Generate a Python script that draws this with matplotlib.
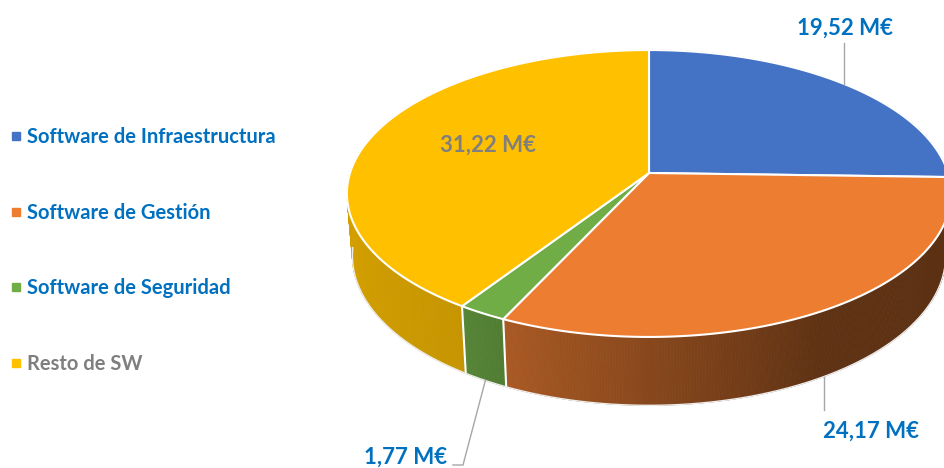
import numpy as np
import matplotlib
matplotlib.use("Agg")
import matplotlib.pyplot as plt
from matplotlib.lines import Line2D
from matplotlib.patches import Polygon
from matplotlib.collections import PolyCollection

# data
categories = ["Software de Infraestructura", "Software de Gestión",
              "Software de Seguridad", "Resto de SW"]
values = [19.52, 24.17, 1.77, 31.22]
value_labels = ["19,52 M€", "24,17 M€", "1,77 M€", "31,22 M€"]

colors = ["#4472C4", "#ED7D31", "#70AD47", "#FFC000"]
text_colors = ["#0070C0", "#0070C0", "#0070C0", "#7F7F7F"]
FONT = ["Lato", "DejaVu Sans"]

# 3d view (pixel space of the figure)
CX, CY = 649, 173
S = 299
TILT = np.arcsin(0.47)
DIST = 6.18
DEPTH = 0.238


def project(phi, y=0.0):
    X = np.cos(phi)
    Z = np.sin(phi)
    ca, sa = np.cos(TILT), np.sin(TILT)
    yc = y * ca + Z * sa
    w = 1 + (-y * sa + Z * ca) / DIST
    return CX + S * X / w, CY - S * yc / w


def shade(phi_deg):
    # side walls: lighter on the left, dark on the right
    p = (phi_deg + 270) % 360 - 270
    return np.interp(p, [-180, -125, -112, -60, 0], [0.85, 0.78, 0.70, 0.40, 0.38])


fracs = np.array(values) / np.sum(values)
edges = 90 - 360 * np.concatenate([[0], np.cumsum(fracs)])
mids = (edges[:-1] + edges[1:]) / 2

fig = plt.figure(figsize=(9.44, 4.68), dpi=100)
ax = fig.add_axes([0, 0, 1, 1])
ax.set_xlim(0, 944)
ax.set_ylim(468, 0)
ax.axis("off")

# side walls as thin strips, far ones first
n = 720
ph = np.linspace(90, -270, n + 1)
strips = []
for k in range(n):
    a0, a1 = np.radians(ph[k]), np.radians(ph[k + 1])
    m = (ph[k] + ph[k + 1]) / 2
    idx = np.searchsorted(-edges[1:], -m)
    idx = min(idx, len(values) - 1)
    base = np.array(matplotlib.colors.to_rgb(colors[idx]))
    col = np.clip(base * shade(m), 0, 1)
    pts = [project(a0), project(a1), project(a1, -DEPTH), project(a0, -DEPTH)]
    strips.append((np.sin(np.radians(m)), pts, col))
strips.sort(key=lambda s: -s[0])
pc = PolyCollection([s[1] for s in strips], facecolors=[s[2] for s in strips],
                    edgecolors=[s[2] for s in strips], linewidths=0.6)
ax.add_collection(pc)

# white seams on the front wall
for e in edges[:-1]:
    r = np.radians(e)
    if np.sin(r) < -0.15:
        x0, y0 = project(r)
        x1, y1 = project(r, -DEPTH)
        ax.plot([x0, x1], [y0, y1], color="white", lw=1.5)

# bottom rim
fr = np.radians(np.linspace(-175, -5, 200))
bx, by = project(fr, -DEPTH)
ax.plot(bx, by, color="#EDEDED", lw=1.0)

# top faces
for i in range(len(values)):
    arc = np.radians(np.linspace(edges[i], edges[i + 1], 200))
    xs, ys = project(arc)
    poly = np.column_stack([np.r_[CX, xs], np.r_[CY, ys]])
    ax.add_patch(Polygon(poly, closed=True, facecolor=colors[i],
                         edgecolor="white", lw=1.5, joinstyle="round"))

# data labels (baseline positions) and leader lines
label_pos = [(845, 35), (871, 438), (406, 464), (488, 152)]
for i, (lx, ly) in enumerate(label_pos):
    ax.text(lx, ly, value_labels[i], ha="center", va="baseline",
            fontsize=16, fontweight="bold", color=text_colors[i], family=FONT)

r = np.radians(mids)
x0, y0 = project(r[0])
ax.plot([x0, x0], [y0, 43], color="#A6A6A6", lw=1)
x1, y1 = project(r[1], -DEPTH)
ax.plot([x1, x1], [y1, 410], color="#A6A6A6", lw=1)
x2, y2 = project(r[2], -DEPTH)
ax.plot([x2, 463, 453], [y2, 465, 465], color="#A6A6A6", lw=1)

# legend
handles = [Line2D([], [], marker="s", ls="none", markersize=5.5,
                  markerfacecolor=c, markeredgecolor=c) for c in colors]
leg = ax.legend(handles, categories, loc="center left",
                bbox_to_anchor=(0.0117, 0.4647), frameon=False,
                borderaxespad=0, borderpad=0, handlelength=0.5,
                handletextpad=0.3, labelspacing=2.77,
                prop={"family": FONT, "weight": "bold", "size": 14.5},
                labelcolor=text_colors)

plt.savefig("out.png", dpi=100)
